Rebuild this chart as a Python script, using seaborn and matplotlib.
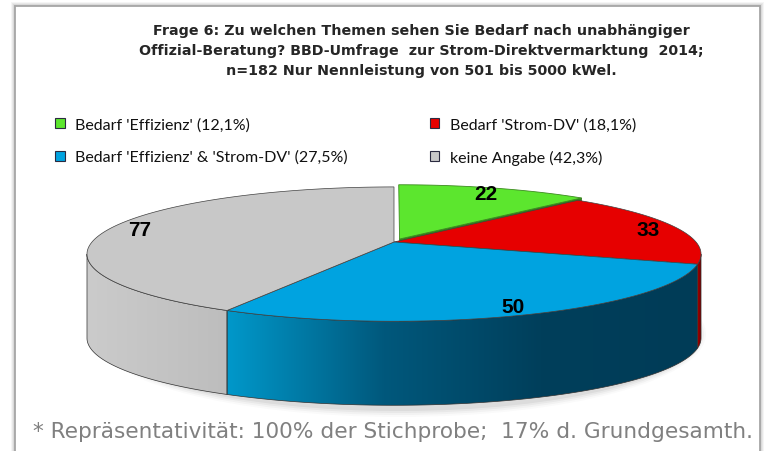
import numpy as np
import seaborn as sns
import matplotlib.pyplot as plt
from matplotlib.patches import Polygon, Rectangle, Ellipse, Patch
from matplotlib.colors import LinearSegmentedColormap

# data
labels = ["Bedarf 'Effizienz'", "Bedarf 'Strom-DV'",
          "Bedarf 'Effizienz' & 'Strom-DV'", "keine Angabe"]
counts = [22, 33, 50, 77]
shares = ["12,1%", "18,1%", "27,5%", "42,3%"]
top_colors = ["#5ce62e", "#e60000", "#00a3e0", "#c8c8c8"]
side_cmaps = [["#3a9a1c", "#2a7010"], ["#9a0000", "#6a0000"],
              ["#0098ca", "#00587c", "#003f5b", "#003c57"], ["#cbcbcb", "#bdbdbd"]]
explode = [0.05, 0, 0, 0]

title = ("Frage 6: Zu welchen Themen sehen Sie Bedarf nach unabhängiger\n"
         "Offizial-Beratung? BBD-Umfrage  zur Strom-Direktvermarktung  2014;\n"
         "n=182 Nur Nennleistung von 501 bis 5000 kWel.")
footnote = "* Repräsentativität: 100% der Stichprobe;  17% d. Grundgesamth."

sns.set_style("white")
plt.rcParams['font.family'] = ['Liberation Sans', 'DejaVu Sans']

W, H = 771, 452
fig = plt.figure(figsize=(W / 100, H / 100), dpi=100)
ax = fig.add_axes([0, 0, 1, 1])
ax.set_xlim(0, W)
ax.set_ylim(H, 0)
ax.axis('off')

# frame with soft shadow
for i, a in enumerate([0.04, 0.05, 0.06, 0.07]):
    ax.add_patch(Rectangle((15 - 4 + i, 7 - 4 + i), 760 - 15 + 8 - 2 * i, 480,
                           facecolor='black', alpha=a, lw=0, zorder=0))
ax.add_patch(Rectangle((15, 7), 745, 480, facecolor='white',
                       edgecolor='#a6a6a6', lw=1.3, zorder=1))

# pie geometry in pixels, with a little perspective (front looks bigger)
cx, cy, rx, ry, depth, k = 394, 243, 302, 65, 84, 0.18


def pt(t, r=1.0, off=(0, 0), dz=0):
    tr = np.radians(t)
    u = r * np.sin(tr) + off[0]
    v = -r * np.cos(tr) + off[1]
    s = 1 / (1 - k * v)
    return (cx + rx * u * s, cy + ry * v * s + dz)


total = sum(counts)
bounds = np.concatenate([[0], np.cumsum(counts) / total * 360])
offsets = []
for i in range(len(counts)):
    mid = np.radians((bounds[i] + bounds[i + 1]) / 2)
    offsets.append((explode[i] * np.sin(mid), -explode[i] * np.cos(mid)))

t_sil = np.degrees(np.arccos(-k))

# soft shadow below the pie
for j, a in enumerate([0.02, 0.03, 0.04, 0.05]):
    ax.add_patch(Ellipse((cx + 5, cy + 8 + depth), 2 * rx + 10 - 4 * j, 2 * ry * 1.2 + 10 - 4 * j,
                         facecolor='black', alpha=a, lw=0, zorder=2))

# green slice (back, exploded): radial face and top
g0, g1 = bounds[0], bounds[1]
o = offsets[0]
c0 = pt(0, 0, o)
r1 = pt(g1, 1, o)
ax.add_patch(Polygon([c0, r1, (r1[0], r1[1] + depth), (c0[0], c0[1] + depth)],
                     facecolor='#2f8a16', edgecolor='#2a6a14', lw=0.5, zorder=3))
ts = np.linspace(g0, g1, 60)
ax.add_patch(Polygon([c0] + [pt(t, 1, o) for t in ts], facecolor=top_colors[0],
                     edgecolor='#3c8a20', lw=0.6, zorder=4))

# side walls of the front slices, with horizontal gradient
for i in range(1, len(counts)):
    a0, a1 = max(bounds[i], t_sil), min(bounds[i + 1], 360 - t_sil)
    if a1 <= a0:
        continue
    ts = np.linspace(a0, a1, 150)
    topp = [pt(t, 1, offsets[i]) for t in ts]
    botp = [(x, y + depth) for x, y in topp[::-1]]
    poly = Polygon(topp + botp, facecolor='none', edgecolor='#303030', lw=0.5, zorder=6)
    ax.add_patch(poly)
    xs = [p[0] for p in topp]
    x0, x1 = min(xs), max(xs)
    cmap = LinearSegmentedColormap.from_list(f"side{i}", side_cmaps[i])
    grad = np.linspace(0, 1, 256).reshape(1, -1)
    im = ax.imshow(grad, cmap=cmap, extent=[x0, x1, cy + 2 * ry + depth, cy - 10],
                   aspect='auto', zorder=5, interpolation='bilinear')
    im.set_clip_path(poly)

# tops of the other slices
for i in range(1, len(counts)):
    ts = np.linspace(bounds[i], bounds[i + 1], 150)
    o = offsets[i]
    ax.add_patch(Polygon([pt(0, 0, o)] + [pt(t, 1, o) for t in ts],
                         facecolor=top_colors[i], edgecolor='#404040', lw=0.5, zorder=7))

# value labels
for i, v in enumerate(counts):
    mid = (bounds[i] + bounds[i + 1]) / 2
    x, y = pt(mid, 0.9, offsets[i], dz=1)
    ax.text(x, y, str(v), ha='center', va='center', fontsize=15,
            fontweight='bold', color='black', zorder=9)

# title
ax.text(421, 51, title, ha='center', va='center', fontsize=10.3,
        fontweight='bold', linespacing=1.5, family='DejaVu Sans', zorder=9)

# legend
handles = [Patch(facecolor=c, edgecolor='#2a2a40', lw=0.8) for c in top_colors]
leg_labels = [f"{l} ({s})" for l, s in zip(labels, shares)]
order = [0, 2, 1, 3]
leg = ax.legend([handles[i] for i in order], [leg_labels[i] for i in order],
                ncol=2, loc='upper left', bbox_to_anchor=(55 / W, 1 - 118 / H),
                frameon=False, prop={'family': 'Lato', 'size': 11.5},
                handlelength=0.6, handleheight=0.6, handletextpad=0.65,
                columnspacing=5.15, labelspacing=1.16, borderpad=0, borderaxespad=0)
for txt in leg.get_texts():
    txt.set_color('#111111')
leg.set_zorder(9)

# footnote
ax.text(33, 432, footnote, ha='left', va='center', fontsize=15.6,
        color='#808080', family='DejaVu Sans', zorder=9)

fig.savefig('out.png', dpi=100)
